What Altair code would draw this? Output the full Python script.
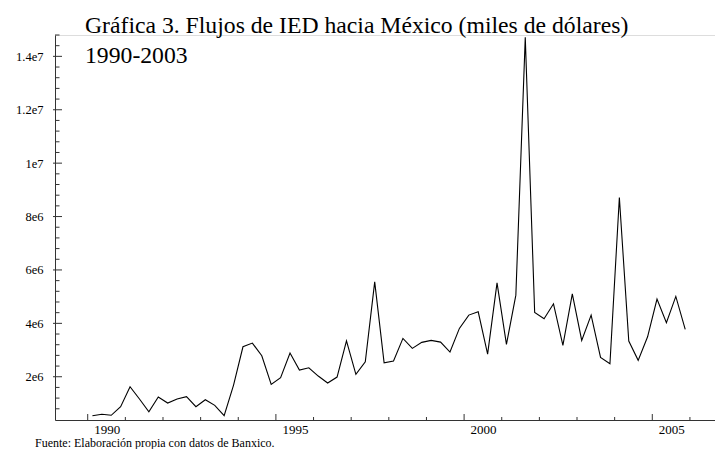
import altair as alt
import pandas as pd

# Quarter mid-points (1990 Q1 ... 2005 Q4)
quarter_mid = [
    1990.125, 1990.375, 1990.625, 1990.875, 1991.125, 1991.375, 1991.625, 1991.875,
    1992.125, 1992.375, 1992.625, 1992.875, 1993.125, 1993.375, 1993.625, 1993.875,
    1994.125, 1994.375, 1994.625, 1994.875, 1995.125, 1995.375, 1995.625, 1995.875,
    1996.125, 1996.375, 1996.625, 1996.875, 1997.125, 1997.375, 1997.625, 1997.875,
    1998.125, 1998.375, 1998.625, 1998.875, 1999.125, 1999.375, 1999.625, 1999.875,
    2000.125, 2000.375, 2000.625, 2000.875, 2001.125, 2001.375, 2001.625, 2001.875,
    2002.125, 2002.375, 2002.625, 2002.875, 2003.125, 2003.375, 2003.625, 2003.875,
    2004.125, 2004.375, 2004.625, 2004.875, 2005.125, 2005.375, 2005.625, 2005.875,
]

# IED flows (miles de dólares)
ied = [
    541000, 593000, 556000, 877000, 1626000, 1166000, 690000, 1240000,
    1016000, 1166000, 1252000, 877000, 1139000, 930000, 541000, 1689000,
    3123000, 3261000, 2786000, 1716000, 1963000, 2887000, 2251000, 2337000,
    2026000, 1764000, 1989000, 3347000, 2090000, 2561000, 5555000, 2524000,
    2587000, 3437000, 3063000, 3287000, 3362000, 3298000, 2924000, 3811000,
    4309000, 4432000, 2849000, 5517000, 3212000, 5057000, 14711000, 4410000,
    4170000, 4732000, 3175000, 5106000, 3362000, 4309000, 2726000, 2486000,
    8713000, 3336000, 2614000, 3497000, 4907000, 4021000, 5008000, 3774000,
]

x_labels = [1990, 1995, 2000, 2005]
x_minor = [1991, 1992, 1993, 1994, 1996, 1997, 1998, 1999, 2001, 2002, 2003, 2004, 2006]
y_major = [2000000, 4000000, 6000000, 8000000, 10000000, 12000000, 14000000]
y_minor = [800000, 1200000, 1600000, 2400000, 2800000, 3200000, 3600000,
           4400000, 4800000, 5200000, 5600000, 6400000, 6800000, 7200000, 7600000,
           8400000, 8800000, 9200000, 9600000, 10400000, 10800000, 11200000, 11600000,
           12400000, 12800000, 13200000, 13600000, 14400000, 14800000]

title_lines = ["Gráfica 3. Flujos de IED hacia México (miles de dólares)", "1990-2003"]
source_note = "Fuente: Elaboración propia con datos de Banxico."

X_DOMAIN = [1989.131, 2006.666]
Y_DOMAIN = [380000, 14800000]
W, H = 660, 385
FONT = "Liberation Serif"

xs = alt.Scale(domain=X_DOMAIN, nice=False, zero=False)
ys = alt.Scale(domain=Y_DOMAIN, nice=False, zero=False)

x_axis = alt.Axis(values=x_labels, ticks=False, grid=False,
                  labelFont=FONT, labelFontSize=13, labelColor="black",
                  labelPadding=3, labelOffset=19, format="d",
                  domainColor="#333", labelFlush=False, labelOverlap=False)
y_axis = alt.Axis(values=y_major, ticks=False, grid=False,
                  labelFont=FONT, labelFontSize=12.5, labelColor="black",
                  labelPadding=12, domainColor="#333", labelOverlap=False,
                  labelExpr="datum.value >= 10000000 ? (datum.value/10000000) + 'e7' : (datum.value/1000000) + 'e6'")


def X(field):
    return alt.X(field, type="quantitative", scale=xs, title=None, axis=x_axis)


def Y(field):
    return alt.Y(field, type="quantitative", scale=ys, title=None, axis=y_axis)


df = pd.DataFrame({"t": quarter_mid, "v": ied})

line = alt.Chart(df).mark_line(color="black", strokeWidth=1.1).encode(x=X("t"), y=Y("v"))

y_major_ticks = alt.Chart(pd.DataFrame({"v": y_major})).mark_rule(color="#333", strokeWidth=1).encode(
    y=Y("v"), x=alt.value(-2), x2=alt.value(7))
y_minor_ticks = alt.Chart(pd.DataFrame({"v": y_minor})).mark_rule(color="#333", strokeWidth=1).encode(
    y=Y("v"), x=alt.value(0), x2=alt.value(4.5))
x_major_ticks = alt.Chart(pd.DataFrame({"t": x_labels})).mark_rule(color="#333", strokeWidth=1).encode(
    x=X("t"), y=alt.value(H), y2=alt.value(H - 6))
x_minor_ticks = alt.Chart(pd.DataFrame({"t": x_minor})).mark_rule(color="#333", strokeWidth=1).encode(
    x=X("t"), y=alt.value(H), y2=alt.value(H - 3))

title1 = alt.Chart(pd.DataFrame({"s": [title_lines[0]]})).mark_text(
    font=FONT, fontSize=23.7, align="left", baseline="alphabetic", color="black").encode(
    text="s:N", x=alt.value(30), y=alt.value(-2))
title2 = alt.Chart(pd.DataFrame({"s": [title_lines[1]]})).mark_text(
    font=FONT, fontSize=23.7, align="left", baseline="alphabetic", color="black").encode(
    text="s:N", x=alt.value(30), y=alt.value(28))
note = alt.Chart(pd.DataFrame({"s": [source_note]})).mark_text(
    font=FONT, fontSize=12, align="left", baseline="alphabetic", color="black").encode(
    text="s:N", x=alt.value(-20), y=alt.value(412))

chart = alt.layer(
    line, y_major_ticks, y_minor_ticks, x_major_ticks, x_minor_ticks, title1, title2, note
).properties(
    width=W, height=H,
    autosize=alt.AutoSizeParams(type="none"),
    padding={"left": 47, "top": 27, "right": 0, "bottom": 29},
).configure_view(strokeWidth=0).configure(font=FONT, background="white")

chart.save("out.html", embed_options={"renderer": "svg", "actions": False})
